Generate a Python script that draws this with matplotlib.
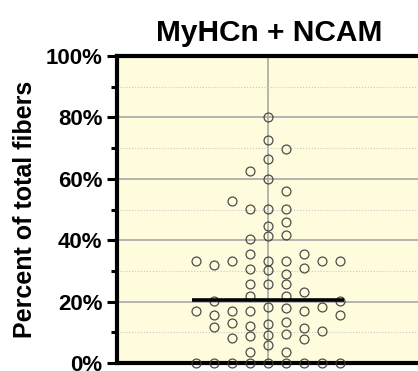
import numpy as np
import matplotlib.pyplot as plt
from matplotlib.ticker import MultipleLocator, FuncFormatter

plt.rcParams['font.family'] = ['Liberation Sans', 'DejaVu Sans']

# percent of fibers per sample, grouped by beeswarm column (-4 .. 4)
col_m4 = [0, 16.9, 33.3]
col_m3 = [0, 11.6, 15.6, 20.2, 31.9]
col_m2 = [0, 8.0, 13.0, 16.9, 33.3, 52.8]
col_m1 = [0, 3.6, 8.9, 12.0, 16.9, 21.9, 25.6, 30.6, 35.5, 40.3, 50.1, 62.7]
col_0 = [0, 6.0, 9.1, 12.7, 18.4, 25.6, 30.3, 33.3, 41.4, 44.6, 50.1, 60.0, 66.6, 72.7, 80.0]
col_p1 = [0, 3.5, 9.5, 13.2, 17.8, 21.9, 25.6, 28.9, 33.3, 41.8, 45.8, 50.1, 55.9, 69.6]
col_p2 = [0, 7.8, 11.4, 16.9, 23.0, 31.0, 35.5]
col_p3 = [0, 10.5, 18.3, 33.3]
col_p4 = [0, 15.6, 20.3, 33.3]
columns = [col_m4, col_m3, col_m2, col_m1, col_0, col_p1, col_p2, col_p3, col_p4]
offsets = [-4, -3, -2, -1, 0, 1, 2, 3, 4]
median_pct = 20.5

fig = plt.figure(figsize=(4.18, 3.71), dpi=100)
ax = fig.add_axes([117 / 418, 8 / 371, 305 / 418, 307 / 371])
ax.set_facecolor('#fefcdc')

for off, vals in zip(offsets, columns):
    ax.plot([off] * len(vals), vals, 'o', ms=6.4, mfc='none', mec='#3a3a3a',
            mew=0.9, alpha=0.9, clip_on=False, zorder=5)

ax.plot([-4.22, 4.2], [median_pct, median_pct], color='black', lw=2.6,
        solid_capstyle='butt', zorder=6)

ax.set_xlim(-8.39, 8.55)
ax.set_ylim(0, 100)
ax.set_xticks([0])
ax.tick_params(axis='x', length=0, labelbottom=False)
ax.yaxis.set_major_locator(MultipleLocator(20))
ax.yaxis.set_minor_locator(MultipleLocator(10))
ax.yaxis.set_major_formatter(FuncFormatter(lambda v, p: '%d%%' % v))
ax.tick_params(axis='y', which='major', length=7.5, width=2.2, pad=3,
               labelsize=16)
ax.tick_params(axis='y', which='minor', length=4, width=2.2)
for lbl in ax.get_yticklabels():
    lbl.set_fontweight('bold')

ax.grid(True, which='major', axis='y', color='#a8a8a8', lw=1.2)
ax.grid(True, which='minor', axis='y', color='#c8c8c8', lw=0.8, ls=':')
ax.grid(True, which='major', axis='x', color='#a8a8a8', lw=1.2)
ax.set_axisbelow(True)

for side in ['left', 'top', 'bottom']:
    ax.spines[side].set_linewidth(3)
ax.spines['right'].set_visible(False)

ax.set_title('MyHCn + NCAM', fontsize=21.5, fontweight='bold', pad=11)
ax.set_ylabel('Percent of total fibers', fontsize=18, fontweight='bold',
              labelpad=6)

fig.savefig('out.png', dpi=100)
